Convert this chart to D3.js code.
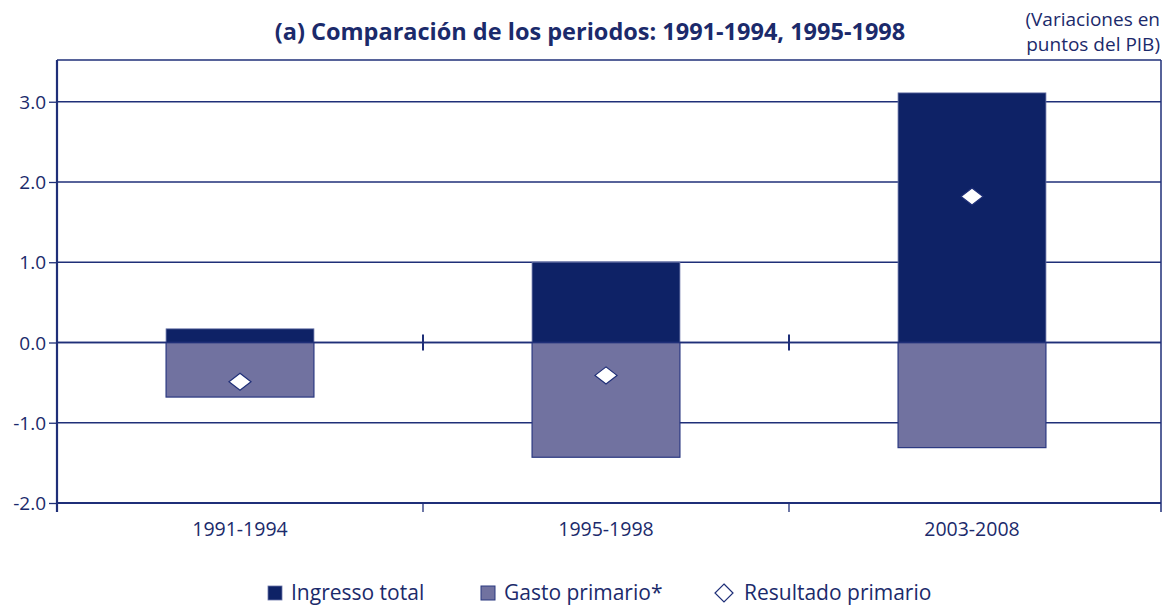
<!DOCTYPE html>
<html>
<head>
<meta charset="utf-8">
<script src="https://cdn.jsdelivr.net/npm/d3@7"></script>
<style>
  body { margin: 0; background: #fff; }
  svg text { font-family: "Open Sans", "Noto Sans", sans-serif; fill: #1b2a6b; }
</style>
</head>
<body>
<div class="layout"></div>
<script>
    var periods = ["1991-1994", "1995-1998", "2003-2008"];
    var ingresoTotal = [0.17, 1.00, 3.11];
    var gastoPrimario = [-0.68, -1.43, -1.31];
    var resultadoPrimario = [-0.49, -0.41, 1.82];
    var yTicks = [-2, -1, 0, 1, 2, 3];
    var legendLabels = ["Ingresso total", "Gasto primario*", "Resultado primario"];

    var navy = "#0e2266", gastoFill = "#7172a0", lineCol = "#1f2f78";

    var margin = {top: 60, right: 5, bottom: 105, left: 57},
        width = 1166 - margin.left - margin.right,
        height = 608 - margin.top - margin.bottom;

    var svg = d3.select(".layout").append("svg")
        .attr("width", 1166)
        .attr("height", 608);

    var g = svg.append("g")
        .attr("transform", "translate(" + margin.left + "," + margin.top + ")");

    var x = d3.scaleBand()
        .domain(periods)
        .range([0, width - 6])
        .padding(0);

    var y = d3.scaleLinear()
        .domain([-2, 3.52])
        .range([height, 0]);

    var barW = x.bandwidth() * 0.404;

    // grid lines
    g.selectAll(".grid")
        .data(yTicks)
        .enter().append("line")
        .attr("x1", 0).attr("x2", width)
        .attr("y1", function(d) { return y(d); })
        .attr("y2", function(d) { return y(d); })
        .attr("stroke", lineCol)
        .attr("stroke-width", 1.3);

    // frame top and right
    g.append("line")
        .attr("x1", 0).attr("x2", width)
        .attr("y1", y(3.52)).attr("y2", y(3.52))
        .attr("stroke", lineCol).attr("stroke-width", 1.5);
    g.append("line")
        .attr("x1", width).attr("x2", width)
        .attr("y1", y(3.52)).attr("y2", y(-2) + 9)
        .attr("stroke", lineCol).attr("stroke-width", 1.5);

    // bars: ingreso total (positive)
    g.selectAll(".ing")
        .data(periods)
        .enter().append("rect")
        .attr("x", function(d) { return x(d) + (x.bandwidth() - barW) / 2; })
        .attr("y", function(d, i) { return y(ingresoTotal[i]); })
        .attr("width", barW)
        .attr("height", function(d, i) { return y(0) - y(ingresoTotal[i]); })
        .attr("fill", navy)
        .attr("stroke", "#6a74a8")
        .attr("stroke-width", 0.8);

    // bars: gasto primario (negative)
    g.selectAll(".gas")
        .data(periods)
        .enter().append("rect")
        .attr("x", function(d) { return x(d) + (x.bandwidth() - barW) / 2; })
        .attr("y", y(0))
        .attr("width", barW)
        .attr("height", function(d, i) { return y(gastoPrimario[i]) - y(0); })
        .attr("fill", gastoFill)
        .attr("stroke", "#2a3880")
        .attr("stroke-width", 1.2);

    // zero line on top of bars
    g.append("line")
        .attr("x1", 0).attr("x2", width)
        .attr("y1", y(0)).attr("y2", y(0))
        .attr("stroke", lineCol).attr("stroke-width", 1.5);

    // category separators crossing the zero line
    g.selectAll(".sep")
        .data(periods.slice(1))
        .enter().append("line")
        .attr("x1", function(d) { return x(d); })
        .attr("x2", function(d) { return x(d); })
        .attr("y1", y(0) - 8).attr("y2", y(0) + 8)
        .attr("stroke", lineCol).attr("stroke-width", 2);

    // diamonds: resultado primario
    var diamond = "M0,-8.5L11,0L0,8.5L-11,0Z";
    g.selectAll(".res")
        .data(periods)
        .enter().append("path")
        .attr("d", diamond)
        .attr("transform", function(d, i) {
            return "translate(" + (x(d) + x.bandwidth() / 2) + "," + y(resultadoPrimario[i]) + ")";
        })
        .attr("fill", "#fff")
        .attr("stroke", lineCol)
        .attr("stroke-width", 1.2);

    // y axis
    var yAxis = d3.axisLeft(y)
        .tickValues(yTicks)
        .tickSize(8)
        .tickPadding(3);

    var yAx = g.append("g").call(yAxis);
    yAx.select(".domain").remove();
    yAx.selectAll(".tick line").attr("stroke", lineCol).attr("stroke-width", 1.3);
    yAx.selectAll(".tick text")
        .style("font-size", "19px")
        .attr("fill", "#1b2a6b")
        .attr("dy", "0.35em")
        .text(function(d) { return d3.format(".1f")(d).replace("−", "-"); });
    g.append("line")
        .attr("x1", 0).attr("x2", 0)
        .attr("y1", y(3.52)).attr("y2", y(-2) + 9)
        .attr("stroke", lineCol).attr("stroke-width", 2.2);

    // bottom axis
    g.append("line")
        .attr("x1", 0).attr("x2", width)
        .attr("y1", y(-2)).attr("y2", y(-2))
        .attr("stroke", lineCol).attr("stroke-width", 2);
    g.selectAll(".btick")
        .data(periods.slice(1))
        .enter().append("line")
        .attr("x1", function(d) { return x(d); })
        .attr("x2", function(d) { return x(d); })
        .attr("y1", y(-2)).attr("y2", y(-2) + 9)
        .attr("stroke", lineCol).attr("stroke-width", 1.3);
    g.selectAll(".blab")
        .data(periods)
        .enter().append("text")
        .attr("x", function(d) { return x(d) + x.bandwidth() / 2; })
        .attr("y", y(-2) + 33)
        .attr("text-anchor", "middle")
        .style("font-size", "19.5px")
        .text(function(d) { return d; });

    // title
    svg.append("text")
        .attr("x", 590)
        .attr("y", 40)
        .attr("text-anchor", "middle")
        .style("font-size", "23.5px")
        .style("font-weight", "bold")
        .text("(a) Comparación de los periodos: 1991-1994, 1995-1998");

    svg.append("text")
        .attr("x", 1160).attr("y", 26)
        .attr("text-anchor", "end")
        .style("font-size", "19px")
        .text("(Variaciones en");
    svg.append("text")
        .attr("x", 1160).attr("y", 51)
        .attr("text-anchor", "end")
        .style("font-size", "19px")
        .text("puntos del PIB)");

    // legend
    var legend = svg.append("g").attr("transform", "translate(0,593)");
    var legX = [268, 481, 715];
    legend.append("rect").attr("x", legX[0]).attr("y", -7).attr("width", 14).attr("height", 14)
        .attr("fill", navy).attr("stroke", "#6a74a8").attr("stroke-width", 0.8);
    legend.append("rect").attr("x", legX[1]).attr("y", -7).attr("width", 14).attr("height", 14)
        .attr("fill", gastoFill).attr("stroke", "#2a3880").attr("stroke-width", 1);
    legend.append("path").attr("d", "M0,-9L9,0L0,9L-9,0Z")
        .attr("transform", "translate(" + (legX[2] + 9) + ",0)")
        .attr("fill", "#fff").attr("stroke", lineCol).attr("stroke-width", 1.2);
    legend.selectAll(".lt")
        .data(legendLabels)
        .enter().append("text")
        .attr("x", function(d, i) { return legX[i] + (i == 2 ? 29 : 23); })
        .attr("y", 0)
        .attr("dy", "0.35em")
        .style("font-size", "21px")
        .text(function(d) { return d; });
</script>
</body>
</html>
